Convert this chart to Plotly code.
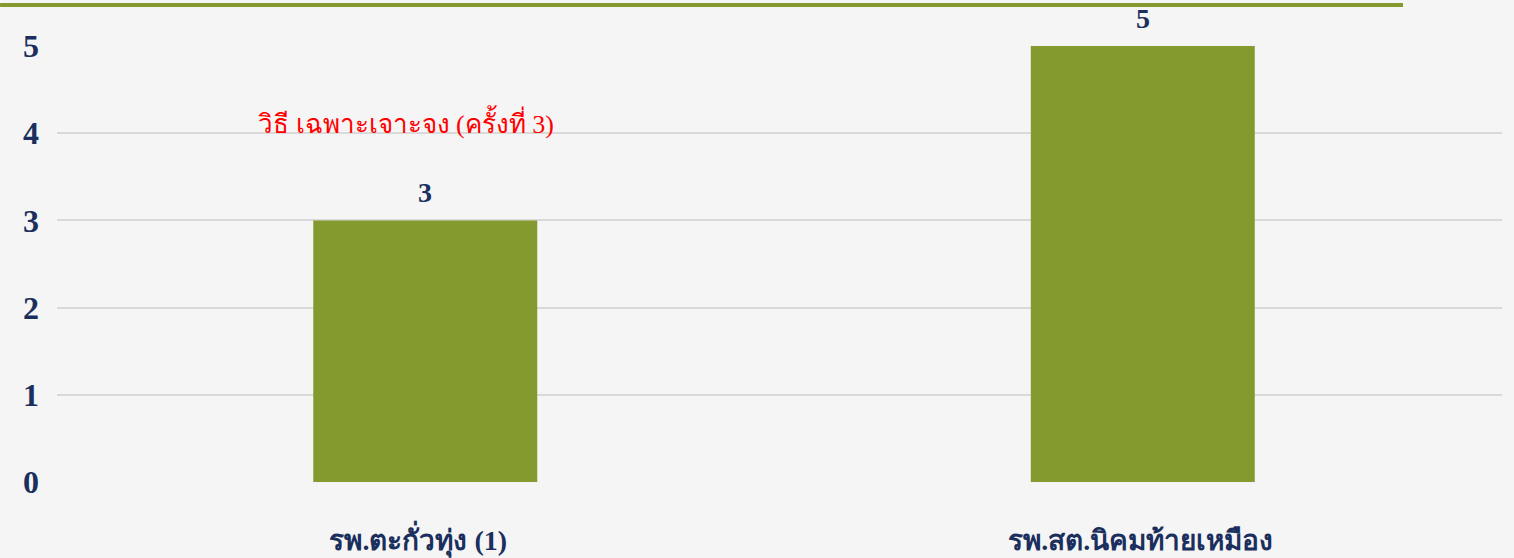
import plotly.graph_objects as go

categories = ["รพ.ตะกั่วทุ่ง (1)", "รพ.สต.นิคมท้ายเหมือง"]
values = [3, 5]
y_ticks = [0, 1, 2, 3, 4, 5]
note_text = "วิธี เฉพาะเจาะจง (ครั้งที่ 3)"

navy = "#1B2F5E"
green = "#84992E"
serif = "Times New Roman, Liberation Serif, serif"

offsets = [-0.1453, -0.1522]

fig = go.Figure()
fig.add_trace(go.Bar(
    x=categories, y=values,
    width=0.31, offset=offsets,
    marker=dict(color=green, line=dict(width=0)),
    hoverinfo="x+y",
))

# data labels above bars
for i, (c, v) in enumerate(zip(categories, values)):
    fig.add_annotation(
        x=c, y=v, xref="x", yref="y", text=str(v), showarrow=False,
        yanchor="middle", yshift=28, xshift=(offsets[i] + 0.155) * 722,
        font=dict(family=serif, size=28, color=navy, weight="bold"),
    )

fig.add_annotation(
    x=0, y=4.13, xref="x", yref="y", text=note_text, showarrow=False,
    xshift=-12,
    font=dict(family=serif, size=26, color="#FF0000"),
)

fig.add_shape(type="line", xref="paper", yref="paper",
              x0=-0.0394, x1=0.9315, y0=1.094, y1=1.094,
              line=dict(color=green, width=4))

fig.update_layout(
    width=1514, height=558,
    margin=dict(l=57, r=12, t=46, b=76, autoexpand=False),
    paper_bgcolor="#F5F5F5", plot_bgcolor="#F5F5F5",
    showlegend=False,
    font=dict(family=serif, color=navy),
    xaxis=dict(
        tickfont=dict(family=serif, size=28, color=navy, weight="bold"),
        showgrid=False, zeroline=False, showline=False, ticks="",
        ticklabelstandoff=39,
    ),
    yaxis=dict(
        range=[0, 5], tickvals=y_ticks,
        tickfont=dict(family=serif, size=32, color=navy, weight="bold"),
        showgrid=True, gridcolor="#D9D9D9", gridwidth=1.5,
        zeroline=False, showline=False, ticks="",
        ticklabelstandoff=17,
    ),
)

fig.write_html(
    "out.html",
    config={"displayModeBar": False},
    post_script="document.body.style.margin='0';document.body.style.overflow='hidden';",
)
